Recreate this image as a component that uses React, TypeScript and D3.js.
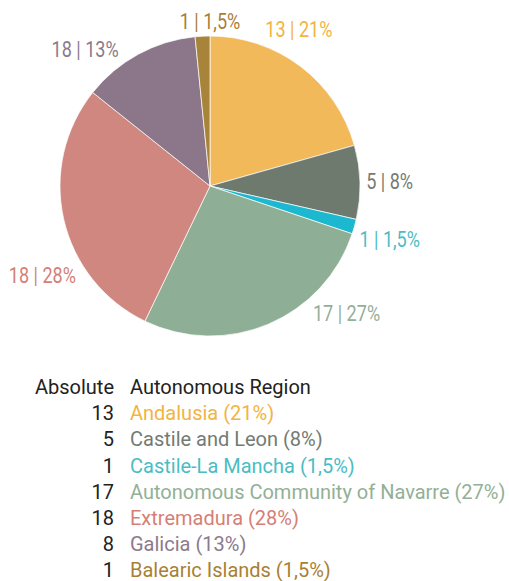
import { useEffect, useRef } from "react";
import * as d3 from "d3";

// data
const regions = [
  "Andalusia",
  "Castile and Leon",
  "Castile-La Mancha",
  "Autonomous Community of Navarre",
  "Extremadura",
  "Galicia",
  "Balearic Islands",
];
const absolute = [13, 5, 1, 17, 18, 8, 1];
const percents = ["21%", "8%", "1,5%", "27%", "28%", "13%", "1,5%"];
// the pie labels in the original print 18 for Galicia
const pieLabelValues = [13, 5, 1, 17, 18, 18, 1];

const sliceColors = ["#f2b95a", "#6e7a6e", "#1bb8d0", "#8fae96", "#d0877f", "#8b7789", "#a8843a"];
const textColors = ["#f2b440", "#737b73", "#4bbcc4", "#93b096", "#d57f76", "#8c7a8c", "#a97f34"];

// label angles (deg, clockwise from 12 o'clock) after the original's label collision shuffle
const labelAngles = [29.5, 88.5, 106.7, 133, 242, 317.6, 360];

const App = () => {
  const svgRef = useRef<SVGSVGElement>(null);

  useEffect(() => {
    const width = 509;
    const height = 581;
    const cx = 210;
    const cy = 186;
    const radius = 150;

    const svg = d3.select(svgRef.current);
    svg.selectAll("*").remove();
    svg.attr("width", width).attr("height", height);

    const pie = d3.pie<number>().sort(null).value(d => d);
    const arc = d3.arc<d3.PieArcDatum<number>>().innerRadius(0).outerRadius(radius);

    const g = svg.append("g").attr("transform", `translate(${cx},${cy})`);

    g.selectAll("path")
      .data(pie(absolute))
      .enter()
      .append("path")
      .attr("d", arc)
      .attr("fill", (d, i) => sliceColors[i])
      .attr("stroke", "#fff")
      .attr("stroke-width", 0.7);

    // outside labels, condensed, pushed out so the text box sits just off the circle
    const r0 = 156;
    pieLabelValues.forEach((v, i) => {
      const t = g.append("text")
        .attr("font-family", "Roboto, sans-serif")
        .attr("font-size", 22)
        .attr("fill", textColors[i])
        .attr("text-anchor", "middle")
        .attr("dominant-baseline", "central")
        .text(`${v} | ${percents[i]}`);
      const w = (t.node() as SVGTextElement).getComputedTextLength() * 0.82;
      t.attr("textLength", w).attr("lengthAdjust", "spacingAndGlyphs");
      const a = (labelAngles[i] * Math.PI) / 180;
      const s = Math.sin(a);
      const c = Math.cos(a);
      const rr = r0 + (w / 2) * Math.abs(s) + 9 * Math.abs(c);
      t.attr("x", rr * s).attr("y", -rr * c);
    });

    // table legend
    const numX = 114;
    const nameX = 130;
    const y0 = 394;
    const rowH = 26.2;

    const legend = svg.append("g")
      .attr("font-family", "Roboto, sans-serif")
      .attr("font-size", 20);

    legend.append("text")
      .attr("x", numX)
      .attr("y", y0)
      .attr("text-anchor", "end")
      .attr("fill", "#222")
      .text("Absolute");
    legend.append("text")
      .attr("x", nameX)
      .attr("y", y0)
      .attr("fill", "#222")
      .text("Autonomous Region");

    regions.forEach((name, i) => {
      const y = y0 + (i + 1) * rowH;
      legend.append("text")
        .attr("x", numX)
        .attr("y", y)
        .attr("text-anchor", "end")
        .attr("fill", "#222")
        .text(absolute[i]);
      legend.append("text")
        .attr("x", nameX)
        .attr("y", y)
        .attr("fill", textColors[i])
        .text(`${name} (${percents[i]})`);
    });
  }, []);

  return (
    <svg ref={svgRef} style={{ position: "absolute", left: 0, top: 0 }}></svg>
  );
};

export default App;
